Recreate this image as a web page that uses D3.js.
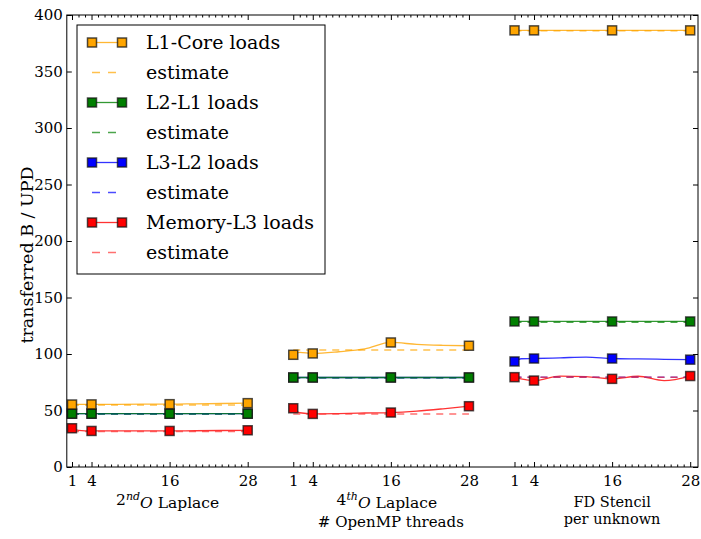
<!DOCTYPE html>
<html>
<head>
<meta charset="utf-8">
<script src="https://cdn.jsdelivr.net/npm/d3@7/dist/d3.min.js"></script>
<style>
  html, body { margin: 0; padding: 0; background: #fff; }
  svg { display: block; font-family: "DejaVu Serif", serif; }
</style>
</head>
<body>
<svg id="chart" width="701" height="539"></svg>
<script>
// Measured thread counts (solid lines) and the counts that carry markers
const threadCounts = [1, 2, 4, 8, 12, 16, 20, 24, 28];
const markerThreads = [1, 4, 16, 28];
const majorThreads = [1, 4, 16, 28];
// Each kernel occupies its own block on the shared x axis
const groupOffsets = [0, 34, 68];

// Transferred bytes per update, one row per kernel (2nd order, 4th order, FD stencil)
const l1CoreLoads = [
  [55.3, 55.4, 55.4, 55.5, 55.6, 55.6, 55.9, 56.2, 56.5],
  [99.3, 101.5, 100.5, 102.0, 104.5, 110.2, 108.5, 107.7, 107.3],
  [386.4, 386.4, 386.4, 386.4, 386.4, 386.4, 386.4, 386.4, 386.4]
];
const l2L1Loads = [
  [47.2, 47.2, 47.2, 47.2, 47.2, 47.2, 47.2, 47.2, 47.2],
  [79.2, 79.2, 79.2, 79.2, 79.2, 79.2, 79.2, 79.2, 79.2],
  [128.8, 128.8, 128.8, 128.8, 128.8, 128.8, 128.8, 128.8, 128.8]
];
const l3L2Loads = [
  [47.2, 47.2, 47.2, 47.2, 47.2, 47.2, 47.2, 47.2, 47.2],
  [79.2, 79.2, 79.2, 79.2, 79.2, 79.2, 79.2, 79.2, 79.2],
  [93.4, 95.8, 96.0, 96.6, 97.3, 96.0, 95.6, 95.3, 95.0]
];
const memL3Loads = [
  [34.3, 32.4, 31.9, 31.9, 31.9, 31.9, 32.1, 32.3, 32.5],
  [52.0, 48.0, 47.0, 47.3, 47.8, 48.2, 49.5, 51.5, 53.8],
  [79.5, 78.0, 76.5, 80.5, 80.0, 78.0, 80.3, 76.5, 80.5]
];

// Model estimates (constant over the thread count)
const l1CoreEstimate = [54.8, 103.5, 386.0];
const l2L1Estimate = [47.0, 79.0, 128.0];
const l3L2Estimate = [47.0, 79.0, 79.5];
const memL3Estimate = [31.5, 47.0, 79.5];

const yTicks = [0, 50, 100, 150, 200, 250, 300, 350, 400];

const series = [
  { name: "L1-Core loads", color: "#ffa500", values: l1CoreLoads, estimate: l1CoreEstimate, estColor: "#ffa500" },
  { name: "L2-L1 loads", color: "#007f00", values: l2L1Loads, estimate: l2L1Estimate, estColor: "#007f00" },
  { name: "L3-L2 loads", color: "#0000ff", values: l3L2Loads, estimate: l3L2Estimate, estColor: "#0000ff" },
  { name: "Memory-L3 loads", color: "#ff0000", values: memL3Loads, estimate: memL3Estimate, estColor: "#ff3333" }
];
// Stacking order of the curves (green sits above blue where they coincide)
const drawOrder = [2, 1, 0, 3];

const svg = d3.select("#chart");
const W = 701, H = 539;
const plot = { left: 66.8, right: 698, top: 15, bottom: 467 };

svg.append("rect").attr("width", W).attr("height", H).attr("fill", "#fff");

const x = d3.scaleLinear().domain([0.2, 97.2]).range([plot.left, plot.right]);
const y = d3.scaleLinear().domain([0, 400]).range([plot.bottom, plot.top]);

// ---- axes with inward ticks on all four sides ----
const majorVals = [], minorVals = [], tickLabel = new Map();
groupOffsets.forEach(off => {
  for (let t = 1; t <= 28; t++) {
    if (majorThreads.includes(t)) { majorVals.push(off + t); tickLabel.set(off + t, String(t)); }
    else minorVals.push(off + t);
  }
});

function styleAxis(g) {
  g.select(".domain").remove();
  g.selectAll(".tick line").attr("stroke", "#000").attr("stroke-width", 1);
  g.selectAll(".tick text").attr("fill", "#000").attr("font-family", "DejaVu Serif, serif").attr("font-size", 15);
}

svg.append("g").attr("transform", `translate(0,${plot.bottom})`)
  .call(d3.axisBottom(x).tickValues(majorVals).tickSize(-5).tickPadding(8).tickFormat(v => tickLabel.get(v)))
  .call(styleAxis);
svg.append("g").attr("transform", `translate(0,${plot.bottom})`)
  .call(d3.axisBottom(x).tickValues(minorVals).tickSize(-2.5).tickFormat(""))
  .call(styleAxis);
svg.append("g").attr("transform", `translate(0,${plot.top})`)
  .call(d3.axisTop(x).tickValues(majorVals).tickSize(-5).tickFormat(""))
  .call(styleAxis);
svg.append("g").attr("transform", `translate(0,${plot.top})`)
  .call(d3.axisTop(x).tickValues(minorVals).tickSize(-2.5).tickFormat(""))
  .call(styleAxis);
svg.append("g").attr("transform", `translate(${plot.left},0)`)
  .call(d3.axisLeft(y).tickValues(yTicks).tickSize(-5).tickPadding(4))
  .call(styleAxis);
svg.append("g").attr("transform", `translate(${plot.right},0)`)
  .call(d3.axisRight(y).tickValues(yTicks).tickSize(-5).tickFormat(""))
  .call(styleAxis);

// ---- data curves ----
const curves = svg.append("g");
const solidLine = d3.line().x(d => x(d.t)).y(d => y(d.v)).curve(d3.curveMonotoneX);

drawOrder.forEach(si => {
  const s = series[si];
  groupOffsets.forEach((off, gi) => {
    const pts = threadCounts.map((t, i) => ({ t: off + t, v: s.values[gi][i] }));
    curves.append("path").datum(pts)
      .attr("d", solidLine).attr("fill", "none")
      .attr("stroke", s.color).attr("stroke-width", 1.3).attr("stroke-opacity", 0.8);
  });
});

drawOrder.forEach(si => {
  const s = series[si];
  groupOffsets.forEach((off, gi) => {
    const pts = [{ t: off + 1, v: s.estimate[gi] }, { t: off + 28, v: s.estimate[gi] }];
    curves.append("path").datum(pts)
      .attr("d", d3.line().x(d => x(d.t)).y(d => y(d.v))).attr("fill", "none")
      .attr("stroke", s.estColor).attr("stroke-width", 1.5).attr("stroke-opacity", 0.7)
      .attr("stroke-dasharray", "7,6");
  });
});

const M = 9;
drawOrder.forEach(si => {
  const s = series[si];
  groupOffsets.forEach((off, gi) => {
    const pts = markerThreads.map(t => ({ t: off + t, v: s.values[gi][threadCounts.indexOf(t)] }));
    curves.selectAll(null).data(pts).enter().append("rect")
      .attr("x", d => x(d.t) - M / 2).attr("y", d => y(d.v) - M / 2)
      .attr("width", M).attr("height", M)
      .attr("fill", s.color).attr("stroke", "rgba(20,20,20,0.75)").attr("stroke-width", 1.5);
  });
});

// ---- frame ----
svg.append("rect")
  .attr("x", plot.left).attr("y", plot.top)
  .attr("width", plot.right - plot.left).attr("height", plot.bottom - plot.top)
  .attr("fill", "none").attr("stroke", "#000").attr("stroke-width", 1);

// ---- legend ----
const leg = svg.append("g");
leg.append("rect").attr("x", 77).attr("y", 25).attr("width", 248).attr("height", 249)
  .attr("fill", "#fff").attr("stroke", "#000").attr("stroke-width", 1);
const legendRows = [];
series.forEach(s => {
  legendRows.push({ kind: "solid", s, text: s.name });
  legendRows.push({ kind: "dash", s, text: "estimate" });
});
legendRows.forEach((r, i) => {
  const cy = 42.5 + i * 30;
  if (r.kind === "solid") {
    leg.append("line").attr("x1", 92).attr("x2", 122).attr("y1", cy).attr("y2", cy)
      .attr("stroke", r.s.color).attr("stroke-width", 1.3).attr("stroke-opacity", 0.8);
    [92, 122].forEach(mx => leg.append("rect")
      .attr("x", mx - M / 2).attr("y", cy - M / 2).attr("width", M).attr("height", M)
      .attr("fill", r.s.color).attr("stroke", "rgba(20,20,20,0.75)").attr("stroke-width", 1.5));
  } else {
    leg.append("line").attr("x1", 92).attr("x2", 117).attr("y1", cy).attr("y2", cy)
      .attr("stroke", r.s.estColor).attr("stroke-width", 1.5).attr("stroke-opacity", 0.7)
      .attr("stroke-dasharray", "8,8");
  }
  leg.append("text").attr("x", 146).attr("y", cy).attr("dy", "0.35em")
    .attr("font-size", 19).attr("fill", "#000").text(r.text);
});

// ---- axis titles ----
svg.append("text")
  .attr("transform", `translate(27,${(plot.top + plot.bottom) / 2 + 14}) rotate(-90)`)
  .attr("text-anchor", "middle").attr("dy", "0.35em")
  .attr("font-size", 17.5).attr("fill", "#000").text("transferred B / UPD");

const groupLabelY = 500;
const labelSize = 15.5;
function orderLabel(gx, digit, sup) {
  const t = svg.append("text").attr("x", gx).attr("y", groupLabelY).attr("dy", "0.35em")
    .attr("text-anchor", "middle").attr("font-size", labelSize).attr("fill", "#000");
  t.append("tspan").text(digit);
  t.append("tspan").attr("font-style", "italic").attr("font-size", 11).attr("dy", "-0.5em").text(sup);
  t.append("tspan").attr("font-style", "italic").attr("dy", "0.5em").attr("font-size", labelSize).text("O");
  t.append("tspan").text(" Laplace");
}
orderLabel(x(groupOffsets[0] + 16) - 2, "2", "nd");
orderLabel(x(groupOffsets[1] + 16) - 4, "4", "th");

svg.append("text").attr("x", x(groupOffsets[1] + 16)).attr("y", 522).attr("dy", "0.35em")
  .attr("text-anchor", "middle").attr("font-size", 15).attr("fill", "#000").text("# OpenMP threads");
svg.append("text").attr("x", x(groupOffsets[2] + 16)).attr("y", 502).attr("dy", "0.35em")
  .attr("text-anchor", "middle").attr("font-size", 14.5).attr("fill", "#000").text("FD Stencil");
svg.append("text").attr("x", x(groupOffsets[2] + 16)).attr("y", 518.5).attr("dy", "0.35em")
  .attr("text-anchor", "middle").attr("font-size", 14.5).attr("fill", "#000").text("per unknown");
</script>
</body>
</html>
